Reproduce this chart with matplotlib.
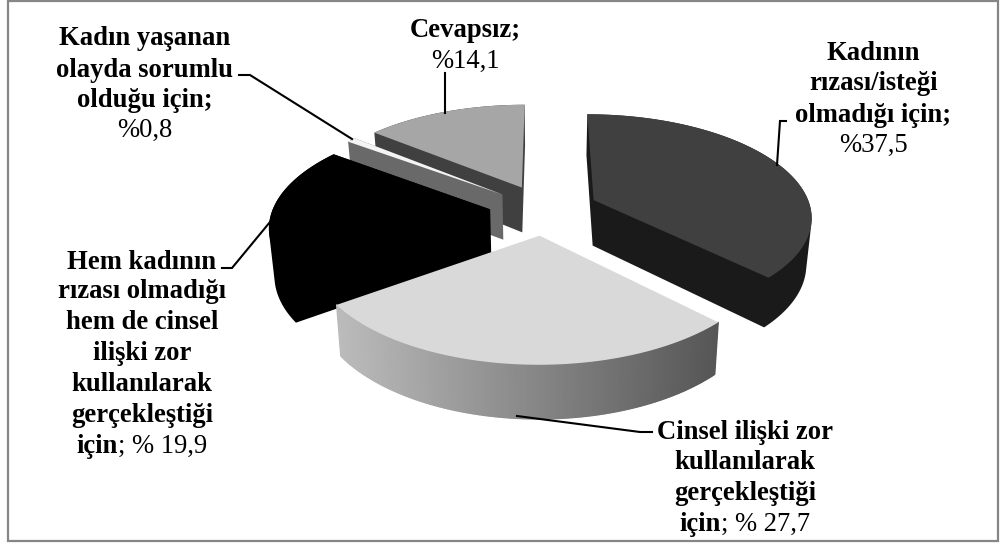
import numpy as np
import matplotlib
matplotlib.use("Agg")
import matplotlib.pyplot as plt
from matplotlib.patches import Polygon, Rectangle
from matplotlib.collections import PolyCollection
from matplotlib.colors import to_rgb

names = ["Kadının rızası/isteği olmadığı için", "Cinsel ilişki zor kullanılarak gerçekleştiği için",
         "Hem kadının rızası olmadığı hem de cinsel ilişki zor kullanılarak gerçekleştiği için",
         "Kadın yaşanan olayda sorumlu olduğu için", "Cevapsız"]
values = np.array([37.5, 27.7, 19.9, 0.8, 14.1])
top_colors = ["#404040", "#d9d9d9", "#000000", "#f4f4f4", "#a6a6a6"]
side_colors = ["#1a1a1a", None, "#000000", "#696969", "#404040"]
draw_order = [4, 3, 2, 0, 1]

labels = [
    dict(cx=873, base=[60, 90, 122, 152],
         lines=[[("Kadının", True)], [("rızası/isteği", True)], [("olmadığı için;", True)], [("%37,5", False)]]),
    dict(cx=745, base=[439, 469, 500, 531],
         lines=[[("Cinsel ilişki zor", True)], [("kullanılarak", True)], [("gerçekleştiği", True)],
                [("için", True), ("; % 27,7", False)]]),
    dict(cx=142, base=[269, 298, 329, 360, 391, 422, 453],
         lines=[[("Hem kadının", True)], [("rızası olmadığı", True)], [("hem de cinsel", True)], [("ilişki zor", True)],
                [("kullanılarak", True)], [("gerçekleştiği", True)], [("için", True), ("; % 19,9", False)]]),
    dict(cx=145, base=[45, 77, 107, 137],
         lines=[[("Kadın yaşanan", True)], [("olayda sorumlu", True)], [("olduğu için;", True)], [("%0,8", False)]]),
    dict(cx=465, base=[37, 68],
         lines=[[("Cevapsız;", True)], [("%14,1", False)]]),
]
leaders = [
    [(777, 165), (780, 121), (786, 121)],
    [(517, 416), (640, 432), (652, 432)],
    [(270, 222), (232, 268), (222, 268)],
    [(352, 139), (250, 75), (239, 75)],
    [(445, 113), (445, 73)],
]

CX, CY, F, G, K, EXPLODE = 544.3, 209.6, 217.5, 101.2, 0.149, 0.249
DEPTH, SHRINK = 46.0, 0.98

edges = np.concatenate([[0], np.cumsum(values) / values.sum() * 360])


def project(x, y):
    w = 1 + K * y
    X = CX + F * x / w
    Y = CY - G * y / w
    return np.column_stack([X, Y]), w


def lower(pts, w):
    out = pts.copy()
    out[:, 0] = CX + (pts[:, 0] - CX) * SHRINK
    out[:, 1] = pts[:, 1] + DEPTH / w ** 0.8
    return out


def hull(pts):
    pts = sorted(map(tuple, pts))

    def half(seq):
        h = []
        for p in seq:
            while len(h) > 1 and ((h[-1][0] - h[-2][0]) * (p[1] - h[-2][1])
                                  - (h[-1][1] - h[-2][1]) * (p[0] - h[-2][0])) <= 0:
                h.pop()
            h.append(p)
        return h[:-1]

    return np.array(half(pts) + half(pts[::-1]))


fig = plt.figure(figsize=(10.01, 5.45), dpi=100)
ax = fig.add_axes([0, 0, 1, 1])
ax.set_xlim(0, 1001)
ax.set_ylim(545, 0)
ax.axis("off")
ax.add_patch(Rectangle((8, 1), 990, 539.5, fill=False, ec="#868686", lw=1.6, zorder=0))

z = 2
for i in draw_order:
    a0, a1 = edges[i], edges[i + 1]
    mid = np.radians((a0 + a1) / 2)
    ox, oy = EXPLODE * np.sin(mid), EXPLODE * np.cos(mid)
    t = np.radians(np.linspace(a0, a1, 200))
    x = np.concatenate([[ox], ox + np.sin(t)])
    y = np.concatenate([[oy], oy + np.cos(t)])
    top, w = project(x, y)
    bot = lower(top, w)
    body = hull(np.vstack([top, bot]))
    if side_colors[i] is None:
        light, dark = np.array(to_rgb("#bcbcbc")), np.array(to_rgb("#555555"))
        lx, rx = top[1:, 0].min(), top[1:, 0].max()
        quads, cols = [], []
        for j in range(1, len(top) - 1):
            q = [top[j], top[j + 1], bot[j + 1], bot[j]]
            u = np.clip((np.mean([p[0] for p in q]) - lx) / (rx - lx), 0, 1)
            quads.append(q)
            cols.append(light + (dark - light) * u)
        ax.add_collection(PolyCollection(quads, facecolors=cols, edgecolors=cols, linewidths=0.9, zorder=z))
    else:
        ax.add_patch(Polygon(body, closed=True, fc=side_colors[i], ec="none", zorder=z))
    ax.add_patch(Polygon(top, closed=True, fc=top_colors[i], ec="none", zorder=z + 1))
    z += 2

for pts in leaders:
    p = np.array(pts)
    ax.plot(p[:, 0], p[:, 1], color="black", lw=1.5, solid_joinstyle="miter", zorder=20)

FONT = "Liberation Serif"
SIZE = 19.2
rend = fig.canvas.get_renderer()
for lab in labels:
    for runs, base in zip(lab["lines"], lab["base"]):
        objs = [ax.text(0, base, s, family=FONT, fontsize=SIZE, fontweight="bold" if b else "normal",
                        ha="left", va="baseline", color="black", zorder=30) for s, b in runs]
        widths = [o.get_window_extent(rend).width for o in objs]
        xpos = lab["cx"] - sum(widths) / 2
        for o, wd in zip(objs, widths):
            o.set_x(xpos)
            xpos += wd

fig.savefig("out.png", dpi=100)
